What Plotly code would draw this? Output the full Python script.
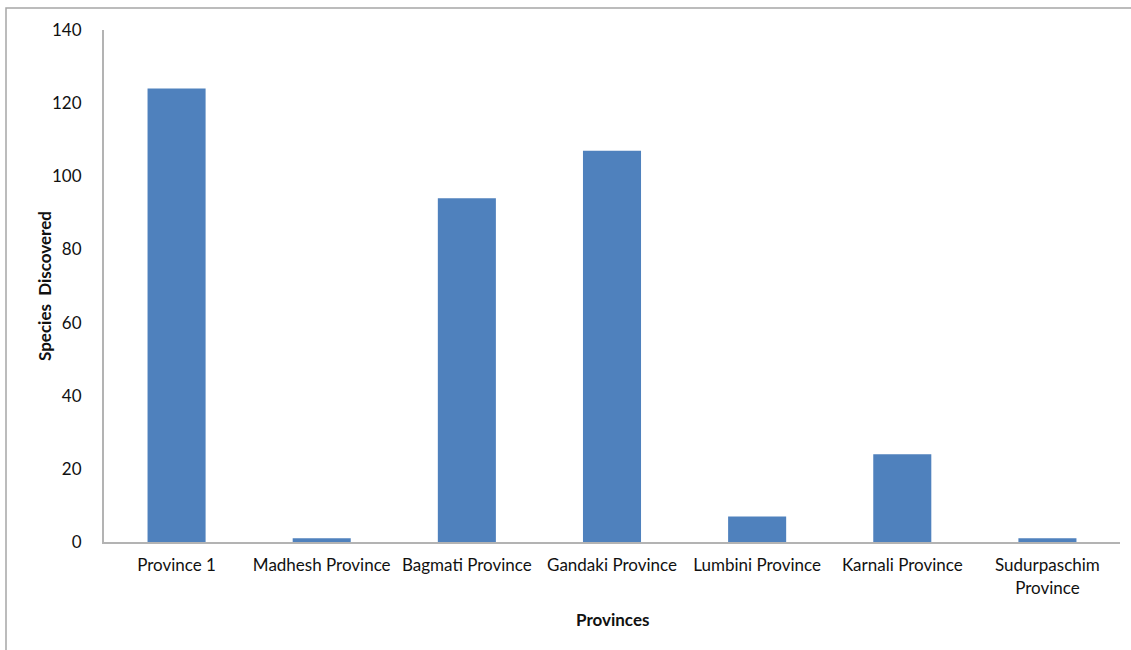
import plotly.graph_objects as go

provinces = [
    "Province 1",
    "Madhesh Province",
    "Bagmati Province",
    "Gandaki Province",
    "Lumbini Province",
    "Karnali Province",
    "Sudurpaschim<br>Province",
]
species_discovered = [124, 1, 94, 107, 7, 24, 1]
y_ticks = [0, 20, 40, 60, 80, 100, 120, 140]

FONT = "Lato"
AXIS_GREY = "#b3b3b3"

fig = go.Figure(
    go.Bar(
        x=provinces,
        y=species_discovered,
        marker=dict(color="#4F81BD", line=dict(width=0)),
        width=0.4,
    )
)

fig.update_layout(
    width=1131,
    height=650,
    margin=dict(l=104, r=11, t=30, b=108),
    paper_bgcolor="white",
    plot_bgcolor="white",
    showlegend=False,
    font=dict(family=FONT, size=17, color="#111111"),
    xaxis=dict(
        showline=True,
        linecolor=AXIS_GREY,
        linewidth=2,
        showgrid=False,
        ticks="",
        ticklabelstandoff=7,
        tickfont=dict(size=17),
    ),
    yaxis=dict(
        range=[0, 140],
        tickvals=y_ticks,
        showline=True,
        linecolor=AXIS_GREY,
        linewidth=2,
        showgrid=False,
        zeroline=False,
        ticks="",
        ticklabelstandoff=17,
        tickfont=dict(size=17),
    ),
    shapes=[
        dict(
            type="rect",
            xref="paper",
            yref="paper",
            x0=(6 - 104) / 1016,
            x1=1.2,
            y0=-0.5,
            y1=(542 - 8) / 512,
            line=dict(color="#a6a6a6", width=1.5),
            fillcolor="rgba(0,0,0,0)",
            layer="below",
        )
    ],
    annotations=[
        dict(
            text="<b>Provinces</b>",
            xref="paper",
            yref="paper",
            x=(612 - 104) / 1016,
            y=(542 - 619) / 512,
            xanchor="center",
            yanchor="middle",
            showarrow=False,
            font=dict(family=FONT, size=17),
        ),
        dict(
            text="<b>Species  Discovered</b>",
            xref="paper",
            yref="paper",
            x=(44 - 104) / 1016,
            y=(542 - 286) / 512,
            xanchor="center",
            yanchor="middle",
            textangle=-90,
            showarrow=False,
            font=dict(family=FONT, size=17),
        ),
    ],
)

fig.write_html("out.html")
